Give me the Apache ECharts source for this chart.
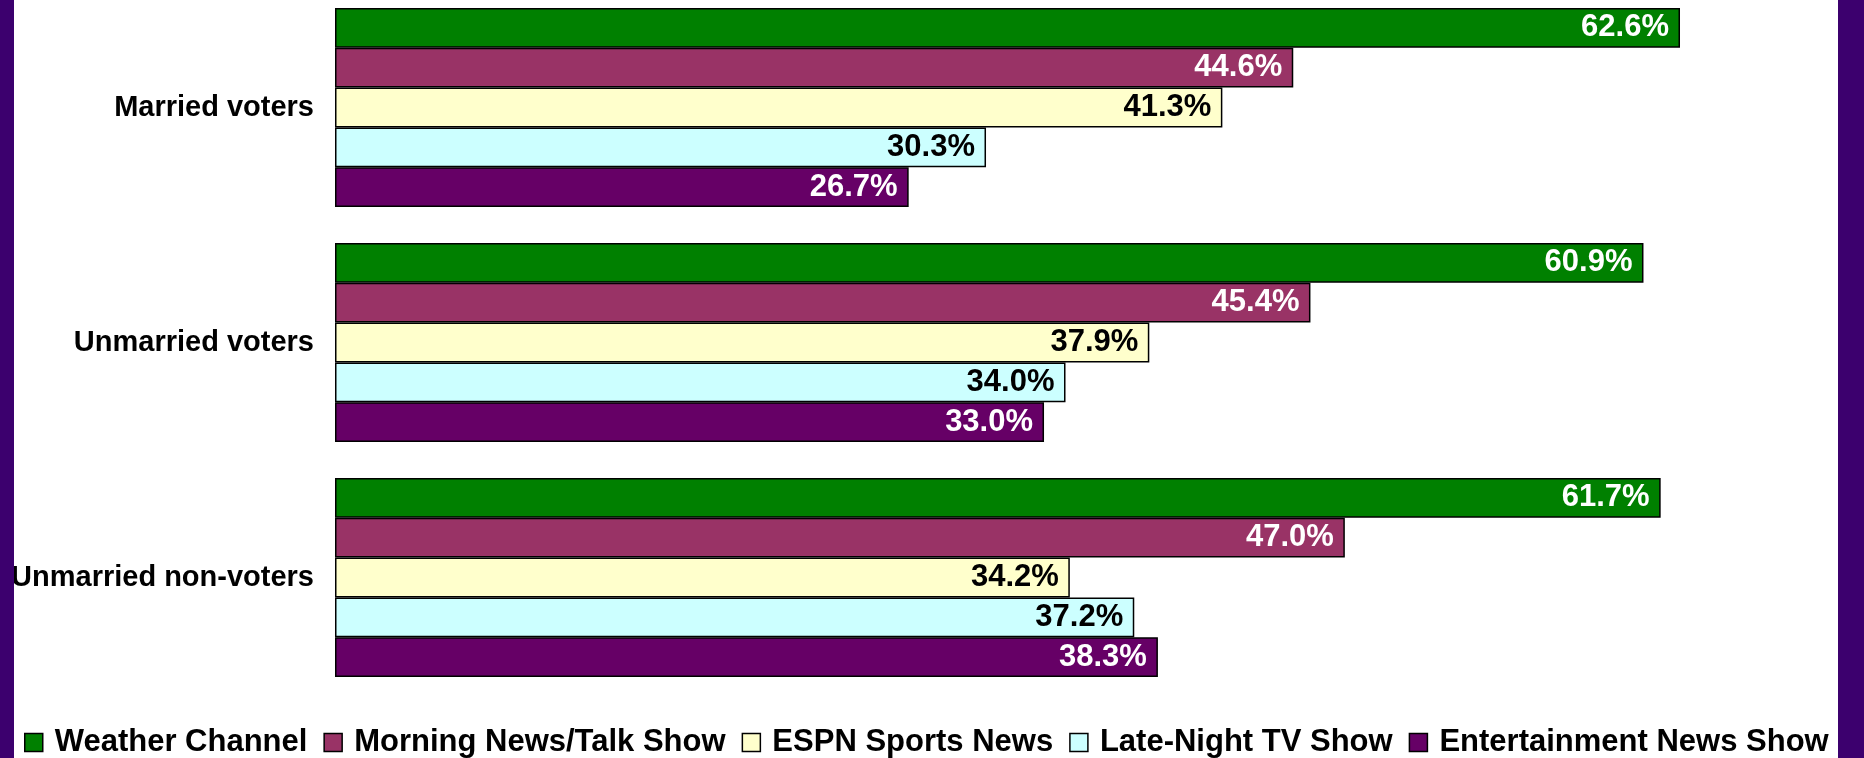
<!DOCTYPE html>
<html>
<head>
<meta charset="utf-8">
<script src="https://cdn.jsdelivr.net/npm/echarts@6/dist/echarts.min.js"></script>
<style>
  html, body { margin: 0; padding: 0; background: #fff; }
  #chart { width: 1864px; height: 758px; }
</style>
</head>
<body>
<div id="chart"></div>
<script>
const categories = ['Married voters', 'Unmarried voters', 'Unmarried non-voters']
const seriesNames = ['Weather Channel', 'Morning News/Talk Show', 'ESPN Sports News', 'Late-Night TV Show', 'Entertainment News Show']
const weather = [62.6, 60.9, 61.7]
const morning = [44.6, 45.4, 47.0]
const espn = [41.3, 37.9, 34.2]
const lateNight = [30.3, 34.0, 37.2]
const entertainment = [26.7, 33.0, 38.3]

const values = [weather, morning, espn, lateNight, entertainment]
const colors = ['#008000', '#993366', '#FFFFCC', '#CCFFFF', '#660066']
const labelColors = ['#fff', '#fff', '#000', '#000', '#fff']
const font = '"Liberation Sans", Arial, sans-serif'

const myChart = echarts.init(document.getElementById('chart'))
myChart.setOption({
  animation: false,
  backgroundColor: '#fff',
  grid: {
    left: 335,
    width: 1504,
    top: -10,
    height: 705,
    outerBoundsMode: 'none'
  },
  legend: {
    left: 24,
    top: 727,
    padding: 0,
    itemWidth: 18,
    itemHeight: 18,
    itemGap: 16,
    icon: 'rect',
    data: seriesNames,
    itemStyle: {
      borderColor: '#000',
      borderWidth: 1.5
    },
    textStyle: {
      fontFamily: font,
      fontWeight: 'bold',
      fontSize: 31,
      color: '#000',
      padding: [0, 0, 0, 7]
    }
  },
  xAxis: {
    type: 'value',
    min: 0,
    max: 70,
    show: false
  },
  yAxis: {
    type: 'category',
    data: categories,
    inverse: true,
    axisLine: { show: false },
    axisTick: { show: false },
    axisLabel: {
      margin: 21,
      fontFamily: font,
      fontWeight: 'bold',
      fontSize: 29,
      color: '#000'
    }
  },
  series: seriesNames.map((name, i) => ({
    name: name,
    type: 'bar',
    data: values[i],
    barGap: '0%',
    barCategoryGap: '15.3%',
    itemStyle: {
      color: colors[i],
      borderColor: '#000',
      borderWidth: 1.5
    },
    label: {
      show: true,
      position: 'insideRight',
      distance: 11,
      formatter: p => p.value.toFixed(1) + '%',
      fontFamily: font,
      fontWeight: 'bold',
      fontSize: 31,
      color: labelColors[i]
    }
  })),
  graphic: [
    { type: 'rect', left: 0, top: 0, z: 100, shape: { width: 14, height: 758 }, style: { fill: '#3C006E' } },
    { type: 'rect', right: 0, top: 0, z: 100, shape: { width: 26, height: 758 }, style: { fill: '#3C006E' } }
  ]
})
window.addEventListener('resize', () => { myChart.resize() })
</script>
</body>
</html>
